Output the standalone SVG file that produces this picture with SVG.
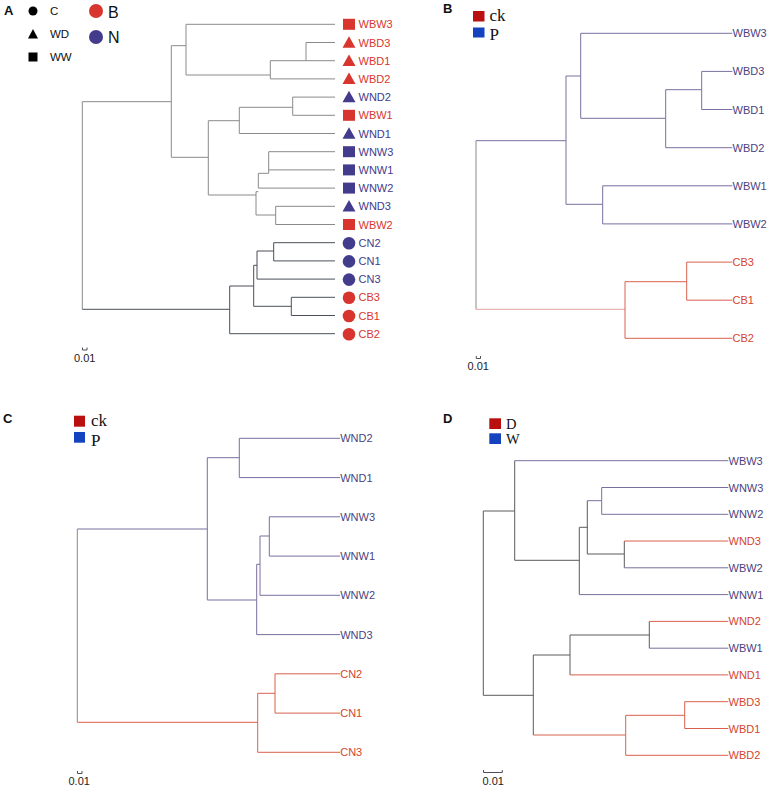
<svg xmlns="http://www.w3.org/2000/svg" width="779" height="798" viewBox="0 0 779 798">
<style>
text{font-family:"Liberation Sans",Arial,sans-serif}
.pl{font-size:13px;font-weight:bold;fill:#111}
.lf{font-size:11px}
.r{fill:#d8352e}
.b{fill:#433b8c}
.pt{fill:#4d3f80}
.rt{fill:#d4442f}
.sc{font-size:11px;fill:#222}
.lg{font-family:"Liberation Serif","Times New Roman",serif;fill:#111}
.cg path{fill:none;stroke-width:1}
.g{stroke:#8a8a8a}
.dk{stroke:#4a4f5a}
.pu{stroke:#7a6e9e}
.rd{stroke:#d9604f}
.pk{stroke:#e5a3a0}
.mg{stroke:#5a5a5a}
</style>
<rect width="779" height="798" fill="#ffffff"/>

<!-- Panel A -->
<g id="panelA">
<text class="pl" x="4" y="15">A</text>
<g id="legendA">
<circle cx="33" cy="11" r="4.5" fill="#000"/>
<text x="50" y="15" font-size="11.5" fill="#111">C</text>
<polygon points="33,29 28,38.5 38,38.5" fill="#000"/>
<text x="50" y="38" font-size="11.5" fill="#111">WD</text>
<rect x="28.5" y="52.5" width="9" height="9" fill="#000"/>
<text x="50" y="61" font-size="11.5" fill="#111">WW</text>
<circle cx="96" cy="11" r="7" fill="#d8352e"/>
<text x="108" y="18" font-size="16" fill="#111">B</text>
<circle cx="96" cy="37" r="7" fill="#433b8c"/>
<text x="108" y="43" font-size="16" fill="#111">N</text>
</g>
<g id="connectorsA" class="cg">
<path class="g" d="M186,24.3H335M306,42.5H335M306,60.7H335M306,42.5V60.7M270.3,60.7H306M270.3,60.7V78.9H335M186,75H270.3M186,24.3V75M171.3,45.7H186M171.3,45.7V157.3M82.3,101.7H171.3M171.3,157.3H208.3M208.3,120.7V195M208.3,120.7H239.3M239.3,107.3V133.5H335M239.3,107.3H292.7M292.7,97.1V115.3M292.7,97.1H335M292.7,115.3H335M268.7,151.7H335M268.7,169.9H335M268.7,151.7V173.3M258.3,173.3H268.7M258.3,173.3V188.1H335M256,191.7H258.3M256,191.7V215M208.3,195H256M256,215H275.7M275.7,206.3V224.5M275.7,206.3H335M275.7,224.5H335"/>
<path class="g" d="M82.3,101.7V309.3"/>
<path class="dk" d="M82.3,309.3H229.7M229.7,286V333.7H335M229.7,286H253.7M253.7,265.3V306.3M253.7,265.3H257M257,251V279.1H335M257,251H273.7M273.7,242.7V260.9M273.7,242.7H335M273.7,260.9H335M253.7,306.3H291.3M291.3,297.3V315.5M291.3,297.3H335M291.3,315.5H335"/>
<path class="dk" d="M82.5,347.5V350H87V347.5"/>
</g>
<g id="nodesA">
<g id="A_WBW3"><rect x="343" y="18.8" width="12" height="11" fill="#d8352e"/><text class="lf r" x="358.5" y="28.3">WBW3</text></g>
<g id="A_WBD3"><polygon points="349,36.2 342.5,47.7 355.5,47.7" fill="#d8352e"/><text class="lf r" x="358.5" y="46.5">WBD3</text></g>
<g id="A_WBD1"><polygon points="349,54.4 342.5,65.9 355.5,65.9" fill="#d8352e"/><text class="lf r" x="358.5" y="64.7">WBD1</text></g>
<g id="A_WBD2"><polygon points="349,72.6 342.5,84.1 355.5,84.1" fill="#d8352e"/><text class="lf r" x="358.5" y="82.9">WBD2</text></g>
<g id="A_WND2"><polygon points="349,90.8 342.5,102.3 355.5,102.3" fill="#433b8c"/><text class="lf b" x="358.5" y="101.1">WND2</text></g>
<g id="A_WBW1"><rect x="343" y="109.8" width="12" height="11" fill="#d8352e"/><text class="lf r" x="358.5" y="119.3">WBW1</text></g>
<g id="A_WND1"><polygon points="349,127.2 342.5,138.7 355.5,138.7" fill="#433b8c"/><text class="lf b" x="358.5" y="137.5">WND1</text></g>
<g id="A_WNW3"><rect x="343" y="146.2" width="12" height="11" fill="#433b8c"/><text class="lf b" x="358.5" y="155.7">WNW3</text></g>
<g id="A_WNW1"><rect x="343" y="164.4" width="12" height="11" fill="#433b8c"/><text class="lf b" x="358.5" y="173.9">WNW1</text></g>
<g id="A_WNW2"><rect x="343" y="182.6" width="12" height="11" fill="#433b8c"/><text class="lf b" x="358.5" y="192.1">WNW2</text></g>
<g id="A_WND3"><polygon points="349,200 342.5,211.5 355.5,211.5" fill="#433b8c"/><text class="lf b" x="358.5" y="210.3">WND3</text></g>
<g id="A_WBW2"><rect x="343" y="219" width="12" height="11" fill="#d8352e"/><text class="lf r" x="358.5" y="228.5">WBW2</text></g>
<g id="A_CN2"><circle cx="349" cy="243.2" r="6.3" fill="#433b8c"/><text class="lf b" x="358.5" y="246.7">CN2</text></g>
<g id="A_CN1"><circle cx="349" cy="261.4" r="6.3" fill="#433b8c"/><text class="lf b" x="358.5" y="264.9">CN1</text></g>
<g id="A_CN3"><circle cx="349" cy="279.6" r="6.3" fill="#433b8c"/><text class="lf b" x="358.5" y="283.1">CN3</text></g>
<g id="A_CB3"><circle cx="349" cy="297.8" r="6.3" fill="#d8352e"/><text class="lf r" x="358.5" y="301.3">CB3</text></g>
<g id="A_CB1"><circle cx="349" cy="316" r="6.3" fill="#d8352e"/><text class="lf r" x="358.5" y="319.5">CB1</text></g>
<g id="A_CB2"><circle cx="349" cy="334.2" r="6.3" fill="#d8352e"/><text class="lf r" x="358.5" y="337.7">CB2</text></g>
</g>
<text class="sc" x="74" y="361.5">0.01</text>
</g>

<!-- Panel B -->
<g id="panelB">
<text class="pl" x="443" y="12.5">B</text>
<g id="legendB">
<rect x="473" y="11" width="11.5" height="10.5" fill="#b90f0f"/>
<text class="lg" x="489.5" y="21" font-size="17">ck</text>
<rect x="473" y="27.5" width="11.5" height="10" fill="#1543c0"/>
<text class="lg" x="489.5" y="39.5" font-size="17">P</text>
</g>
<g id="connectorsB" class="cg">
<path class="pu" d="M580.7,33.3H732.3M580.7,33.3V118.3H665.7M665.7,89.7V147.7H732.3M665.7,89.7H701.7M701.7,71.4V109.5M701.7,71.4H732.3M701.7,109.5H732.3M566,76H580.7M566,76V204.3H602.7M602.7,185.8V223.9M602.7,185.8H732.3M602.7,223.9H732.3M476,140.7H566"/>
<path class="g" d="M476,140.7V309.3"/>
<path class="pk" d="M476,309.3H625"/>
<path class="rd" d="M625,281.7V338.3H732.3M625,281.7H686.7M686.7,262.1V300.2M686.7,262.1H732.3M686.7,300.2H732.3"/>
<path class="dk" d="M476.3,356V358.5H480.5V356"/>
</g>
<g id="nodesB">
<text id="B_WBW3" class="lf pt" x="732.5" y="37.3">WBW3</text>
<text id="B_WBD3" class="lf pt" x="732.5" y="75.4">WBD3</text>
<text id="B_WBD1" class="lf pt" x="732.5" y="113.5">WBD1</text>
<text id="B_WBD2" class="lf pt" x="732.5" y="151.7">WBD2</text>
<text id="B_WBW1" class="lf pt" x="732.5" y="189.8">WBW1</text>
<text id="B_WBW2" class="lf pt" x="732.5" y="227.9">WBW2</text>
<text id="B_CB3" class="lf rt" x="732.5" y="266.1">CB3</text>
<text id="B_CB1" class="lf rt" x="732.5" y="304.2">CB1</text>
<text id="B_CB2" class="lf rt" x="732.5" y="342.3">CB2</text>
</g>
<text class="sc" x="467.5" y="370">0.01</text>
</g>

<!-- Panel C -->
<g id="panelC">
<text class="pl" x="3" y="423">C</text>
<g id="legendC">
<rect x="74" y="415.7" width="11" height="11" fill="#b90f0f"/>
<text class="lg" x="91" y="426" font-size="17">ck</text>
<rect x="74" y="432" width="11" height="10.7" fill="#1543c0"/>
<text class="lg" x="91" y="445.5" font-size="17">P</text>
</g>
<g id="connectorsC" class="cg">
<path class="pu" d="M239.3,438.3H340M239.3,438.3V477.6H340M207.3,457.7H239.3M207.3,457.7V600H256.7M256.7,564.3V634.6H340M256.7,564.3H260M260,536V595.3H340M260,536H269.3M269.3,516.8V556.1M269.3,516.8H340M269.3,556.1H340M77.3,529H207.3"/>
<path class="g" d="M77.3,529V722.3"/>
<path class="rd" d="M77.3,722.3H257.7M257.7,693.3V752.3H340M257.7,693.3H275M275,673.8V713.1M275,673.8H340M275,713.1H340"/>
<path class="dk" d="M77.5,771V773.5H82V771"/>
</g>
<g id="nodesC">
<text id="C_WND2" class="lf pt" x="340.2" y="442.3">WND2</text>
<text id="C_WND1" class="lf pt" x="340.2" y="481.6">WND1</text>
<text id="C_WNW3" class="lf pt" x="340.2" y="520.8">WNW3</text>
<text id="C_WNW1" class="lf pt" x="340.2" y="560.1">WNW1</text>
<text id="C_WNW2" class="lf pt" x="340.2" y="599.3">WNW2</text>
<text id="C_WND3" class="lf pt" x="340.2" y="638.6">WND3</text>
<text id="C_CN2" class="lf rt" x="340.2" y="677.8">CN2</text>
<text id="C_CN1" class="lf rt" x="340.2" y="717.1">CN1</text>
<text id="C_CN3" class="lf rt" x="340.2" y="756.3">CN3</text>
</g>
<text class="sc" x="68.5" y="785">0.01</text>
</g>

<!-- Panel D -->
<g id="panelD">
<text class="pl" x="443" y="423">D</text>
<g id="legendD">
<rect x="489.3" y="418.3" width="11.7" height="10.7" fill="#b90f0f"/>
<text class="lg" x="506" y="428.8" font-size="14.5">D</text>
<rect x="489.3" y="433.3" width="11.7" height="10.7" fill="#1543c0"/>
<text class="lg" x="506" y="444.3" font-size="14.5">W</text>
</g>
<g id="connectorsD" class="cg">
<path class="mg" d="M483.3,511V695.3M483.3,511H514.7M514.7,460.7V560.3M514.7,560.3H579.3M579.3,527.3V594.6M579.3,527.3H587.3M587.3,500.7V554M587.3,554H624.3M624.3,541V567.8M483.3,695.3H533.3M533.3,655V735M533.3,655H570M570,635V674.9M570,635H649.3M649.3,621.4V648.2"/>
<path class="pu" d="M514.7,460.7H728.3M587.3,500.7H601.7M601.7,487.5V514.3M601.7,487.5H728.3M601.7,514.3H728.3M624.3,567.8H728.3M579.3,594.6H728.3M649.3,648.2H728.3"/>
<path class="rd" d="M624.3,541H728.3M649.3,621.4H728.3M570,674.9H728.3M533.3,735H625.7M625.7,715.3V755.3H728.3M625.7,715.3H684.7M684.7,701.7V728.5M684.7,701.7H728.3M684.7,728.5H728.3"/>
<path class="dk" d="M483.5,770V772.5H502.3V770"/>
</g>
<g id="nodesD">
<text id="D_WBW3" class="lf pt" x="728.5" y="464.7">WBW3</text>
<text id="D_WNW3" class="lf pt" x="728.5" y="491.5">WNW3</text>
<text id="D_WNW2" class="lf pt" x="728.5" y="518.3">WNW2</text>
<text id="D_WND3" class="lf rt" x="728.5" y="545">WND3</text>
<text id="D_WBW2" class="lf pt" x="728.5" y="571.8">WBW2</text>
<text id="D_WNW1" class="lf pt" x="728.5" y="598.6">WNW1</text>
<text id="D_WND2" class="lf rt" x="728.5" y="625.4">WND2</text>
<text id="D_WBW1" class="lf pt" x="728.5" y="652.2">WBW1</text>
<text id="D_WND1" class="lf rt" x="728.5" y="678.9">WND1</text>
<text id="D_WBD3" class="lf rt" x="728.5" y="705.7">WBD3</text>
<text id="D_WBD1" class="lf rt" x="728.5" y="732.5">WBD1</text>
<text id="D_WBD2" class="lf rt" x="728.5" y="759.3">WBD2</text>
</g>
<text class="sc" x="482.5" y="784.5">0.01</text>
</g>
</svg>
